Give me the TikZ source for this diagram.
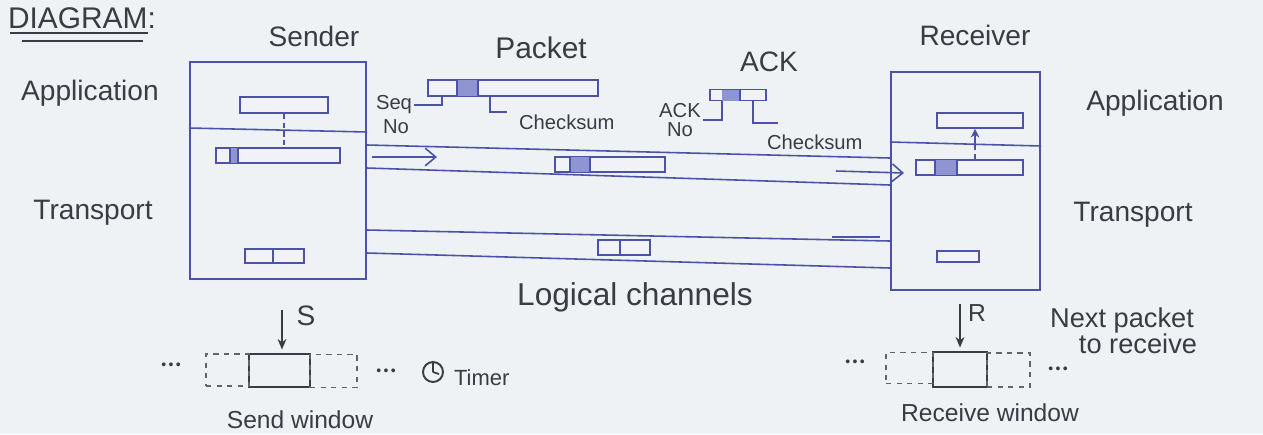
\documentclass[tikz,border=0pt]{standalone}
\usepackage{fontspec}
\setmainfont{Liberation Sans}
\usetikzlibrary{arrows.meta,calc}
\definecolor{ink}{HTML}{4B52A8}
\definecolor{pen}{HTML}{3A3B45}
\definecolor{paper}{HTML}{EEF2F4}
\definecolor{hdr}{HTML}{8F95D0}
\begin{document}
\begin{tikzpicture}[x=0.02cm,y=-0.02cm,
  inkl/.style={draw=ink,line width=0.9pt},
  frame/.style={draw=ink,line width=1.2pt,rectangle,inner sep=0pt},
  bar/.style={draw=ink,line width=0.9pt,rectangle,inner sep=0pt,fill=ink!8},
  dbox/.style={draw=pen!80,dashed,line width=0.8pt,rectangle,inner sep=0pt},
  sbox/.style={draw=pen,line width=1.1pt,rectangle,inner sep=0pt},
  lbl/.style={text=pen,inner sep=1pt},
  big/.style={lbl,font=\fontsize{16}{19}\selectfont},
  mid/.style={lbl,font=\fontsize{14}{16}\selectfont},
  sml/.style={lbl,font=\fontsize{11.5}{12.5}\selectfont,align=center},
  dots/.style={lbl,font=\fontsize{8}{9}\selectfont},
  arr/.style={inkl,-{Straight Barb[length=6pt,width=10pt]}},
  parr/.style={draw=pen,line width=0.9pt,-{Stealth[length=6pt,width=5pt]}}
]
\useasboundingbox[fill=paper] (0,0) rectangle (1263,434);

% title
\node[lbl,font=\fontsize{17}{19}\selectfont,anchor=west] (title) at (6,18) {DIAGRAM:};
\coordinate (u1) at (10,33);
\coordinate (u1e) at (148,33);
\coordinate (u2) at (22,41);
\coordinate (u2e) at (143,41);
\draw[pen,line width=0.9pt] (u1) -- (u1e);
\draw[pen,line width=0.9pt] (u2) -- (u2e);

% host labels
\node[big] (sendertxt) at (314,36) {Sender};
\node[big] (receivertxt) at (975,35) {Receiver};
\node[big] (appL) at (90,93) {Application};
\node[big] (trL) at (93,213) {Transport};
\node[big] (appR) at (1155,103) {Application};
\node[big] (trR) at (1133,215) {Transport};

% host boxes
\node[frame,minimum width=3.52cm,minimum height=4.34cm] (snd) at (278,170.5) {};
\node[frame,minimum width=2.98cm,minimum height=4.36cm] (rcv) at (965.5,181) {};
\draw[inkl] (snd.west |- 0,128) -- (snd.east |- 0,132);
\draw[inkl] (rcv.west |- 0,142) -- (rcv.east |- 0,146);

% sender contents
\node[bar,minimum width=1.76cm,minimum height=0.32cm] (sapp) at (284,105) {};
\node[bar,minimum width=2.48cm,minimum height=0.30cm] (spkt) at (278,155.5) {};
\fill[hdr] (230,148) rectangle (238,163);
\draw[inkl] (spkt.north -| 230,0) -- (spkt.south -| 230,0);
\draw[inkl] (spkt.north -| 238,0) -- (spkt.south -| 238,0);
\draw[inkl,densely dashed] (sapp.south) -- (spkt.north -| sapp.south);
\node[bar,minimum width=1.18cm,minimum height=0.28cm] (sack) at (274.5,256) {};
\draw[inkl] (sack.north -| 273,0) -- (sack.south -| 273,0);

% receiver contents
\node[bar,minimum width=1.72cm,minimum height=0.30cm] (rapp) at (980,120.5) {};
\node[bar,minimum width=2.14cm,minimum height=0.30cm] (rpkt) at (969.5,167.5) {};
\fill[hdr] (935,160) rectangle (957,175);
\draw[inkl] (rpkt.north -| 935,0) -- (rpkt.south -| 935,0);
\draw[inkl] (rpkt.north -| 957,0) -- (rpkt.south -| 957,0);
\coordinate (rup) at (975,147);
\draw[inkl,densely dashed] (rpkt.north -| rup) -- (rup);
\draw[inkl,-{Stealth[length=5pt,width=5pt]}] (rup) -- (rapp.south -| rup);
\node[bar,minimum width=0.84cm,minimum height=0.22cm] (rack) at (958,256.5) {};

% logical channels
\draw[inkl] (snd.east |- 0,145) -- (rcv.west |- 0,158);
\draw[inkl] (snd.east |- 0,168) -- (rcv.west |- 0,185);
\draw[inkl] (snd.east |- 0,230) -- (rcv.west |- 0,241);
\draw[inkl] (snd.east |- 0,253) -- (rcv.west |- 0,268);
\coordinate (a1s) at (372,157);
\coordinate (a1e) at (437,157);
\draw[arr] (a1s) -- (a1e);
\coordinate (a2s) at (836,171);
\coordinate (a2e) at (904,173);
\draw[arr] (a2s) -- (a2e);
\coordinate (a3s) at (832,237);
\coordinate (a3e) at (880,237);
\draw[inkl] (a3s) -- (a3e);

\node[bar,minimum width=2.2cm,minimum height=0.30cm] (cpkt) at (610,164.5) {};
\fill[hdr] (570,157) rectangle (590,172);
\draw[inkl] (cpkt.north -| 570,0) -- (cpkt.south -| 570,0);
\draw[inkl] (cpkt.north -| 590,0) -- (cpkt.south -| 590,0);
\node[bar,minimum width=1.04cm,minimum height=0.30cm] (cack) at (624,247.5) {};
\draw[inkl] (cack.north -| 620,0) -- (cack.south -| 620,0);
\node[lbl,font=\fontsize{18}{20}\selectfont] (logch) at (635,297) {Logical channels};

% packet format
\node[lbl,font=\fontsize{17}{19}\selectfont] (pkttxt) at (541,48) {Packet};
\node[bar,minimum width=3.4cm,minimum height=0.32cm] (packet) at (513,88) {};
\fill[hdr] (457,80) rectangle (478,96);
\draw[inkl] (packet.north -| 457,0) -- (packet.south -| 457,0);
\draw[inkl] (packet.north -| 478,0) -- (packet.south -| 478,0);
\node[sml] (seq) at (394,105) {Seq};
\node[sml] (seqno) at (396,127) {No};
\draw[inkl] (packet.south -| 442,0) |- (seq.east);
\node[sml,anchor=west] (cks1) at (517,122) {Checksum};
\coordinate (ck1e) at (507,112);
\draw[inkl] (packet.south -| 490,0) |- (ck1e);

\node[big] (acktxt) at (769,62) {ACK};
\node[bar,minimum width=1.12cm,minimum height=0.22cm] (ackpkt) at (738,95) {};
\fill[hdr] (722,89.5) rectangle (740,100.5);
\draw[inkl] (ackpkt.north -| 740,0) -- (ackpkt.south -| 740,0);
\node[sml] (ackno) at (680,120) {ACK\\[-2pt]No};
\draw[inkl] (ackpkt.south -| 722,0) |- (ackno.east);
\coordinate (ck2e) at (778,123);
\draw[inkl] (ackpkt.south -| 753,0) |- (ck2e);
\node[sml,anchor=west] (cks2) at (765,142) {Checksum};

% send window
\node[sbox,minimum width=1.22cm,minimum height=0.66cm] (sw) at (279.5,370.5) {};
\node[dbox,minimum width=0.86cm,minimum height=0.64cm] (swl) at (227.5,370) {};
\node[dbox,minimum width=0.94cm,minimum height=0.66cm] (swr) at (333.5,371) {};
\node[dots] (swdl) at (171,366) {\textbullet\,\textbullet\,\textbullet};
\node[dots] (swdr) at (386,372) {\textbullet\,\textbullet\,\textbullet};
\node[big] (stxt) at (306,316) {S};
\coordinate (sarr) at (282,310);
\draw[parr] (sarr) -- ([yshift=2pt]sw.north -| sarr);
\node[circle,draw=pen,line width=1.1pt,minimum size=0.4cm,inner sep=0pt] (clock) at (433,372) {};
\draw[pen,line width=1pt] (clock.center) -- (clock.north) (clock.center) -- ++(6,2);
\node[lbl,font=\fontsize{12.5}{14}\selectfont,anchor=west] (timer) at (452,378) {Timer};
\node[mid] (swtxt) at (300,420) {Send window};

% receive window
\node[sbox,minimum width=1.08cm,minimum height=0.70cm] (rw) at (960,369.5) {};
\node[dbox,minimum width=0.94cm,minimum height=0.62cm] (rwl) at (909.5,368) {};
\node[dbox,minimum width=0.86cm,minimum height=0.68cm] (rwr) at (1008.5,370) {};
\node[dots] (rwdl) at (855,363) {\textbullet\,\textbullet\,\textbullet};
\node[dots] (rwdr) at (1058,370) {\textbullet\,\textbullet\,\textbullet};
\node[mid] (rtxt) at (977,313) {R};
\coordinate (rarr) at (960,304);
\draw[parr] (rarr) -- ([yshift=2pt]rw.north -| rarr);
\node[lbl,font=\fontsize{15.5}{17}\selectfont] (nxt1) at (1122,320) {Next packet};
\node[lbl,font=\fontsize{15.5}{17}\selectfont] (nxt2) at (1138,344) {to receive};
\node[mid] (rwtxt) at (990,413) {Receive window};
\end{tikzpicture}
\end{document}
